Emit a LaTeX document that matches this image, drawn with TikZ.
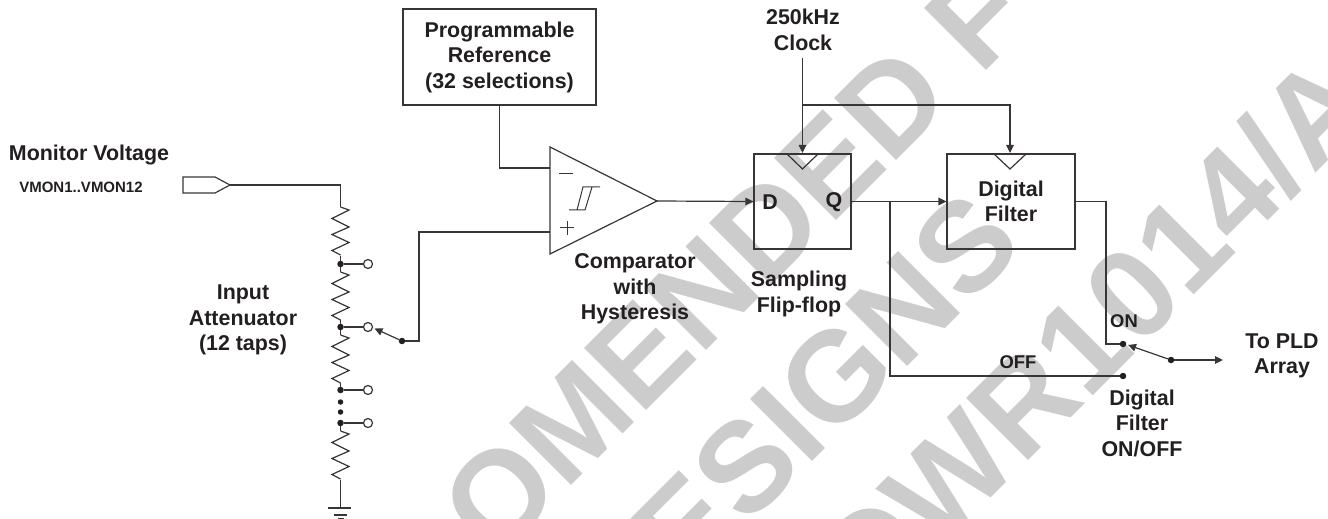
\documentclass[tikz,border=0pt]{standalone}
\usepackage{fontspec}
\setmainfont{Liberation Sans}
\usetikzlibrary{arrows.meta}
\definecolor{ink}{HTML}{231F20}
\definecolor{wm}{HTML}{CCCCCC}
\tikzset{
  x=1bp,y=-1bp,
  wire/.style={draw=ink!90,line width=1.2bp,line join=miter},
  arr/.style={wire,-{Triangle[length=8bp,width=7.5bp]}},
  lab/.style={font=\fontsize{21.4bp}{25.5bp}\selectfont\bfseries,text=ink,align=center,inner sep=0pt},
  smalllab/.style={font=\fontsize{18.4bp}{22bp}\selectfont\bfseries,text=ink,inner sep=0pt},
  tinylab/.style={font=\fontsize{15bp}{18bp}\selectfont\bfseries,text=ink,inner sep=0pt},
  jdot/.style={circle,fill=ink,draw=none,inner sep=0pt,minimum size=6.5bp},
  opin/.style={circle,draw=ink!90,line width=1.2bp,fill=white,inner sep=0pt,minimum size=9bp},
  wmark/.style={font=\fontsize{127.5bp}{127.5bp}\selectfont\bfseries,text=wm,rotate=45,inner sep=0pt,anchor=base west},
}
\newcommand{\zigzag}[1]{\draw[wire] (340.5,#1)--++(8.5,3)--++(-17,8.5)--++(17,8.5)--++(-17,7.5)--++(17,8)--++(-17,8)--++(8.5,4.5);}
\begin{document}
\begin{tikzpicture}
\useasboundingbox (0,0) rectangle (1328,519);
\clip (0,0) rectangle (1328,519);
% watermark
\node[wmark] (w1) at (495,562) {OMENDED F};
\node[wmark] (w2) at (686,588) {ESIGNS};
\node[wmark] (w3) at (867.5,621.5) {OWR1014/A};
% input pin
\coordinate (pin) at (230,185);
\draw[wire] (183,177)--(215,177)--(pin)--(215,193)--(183,193)--cycle;
\node[lab] (mv) at (89,155) {Monitor Voltage};
\node[tinylab] (vm) at (81,187) {VMON1..VMON12};
% attenuator
\coordinate (r1t) at (340.5,207);
\coordinate (r4b) at (340.5,480);
\coordinate (g) at (340.5,508);
\draw[wire] (pin)-|(r1t);
\zigzag{207}\zigzag{272}\zigzag{335}\zigzag{431}
\node[jdot] (d1) at (340.5,264) {};
\node[jdot] (d2) at (340.5,327) {};
\node[jdot] (d3) at (340.5,390) {};
\node[jdot] (d4) at (340.5,423) {};
\node[jdot,minimum size=5.5bp] (e1) at (340.5,402) {};
\node[jdot,minimum size=5.5bp] (e2) at (340.5,412) {};
\node[opin] (o1) at (368,264) {};
\node[opin] (o2) at (368,327) {};
\node[opin] (o3) at (368,390) {};
\node[opin] (o4) at (368,423) {};
\draw[wire] (d1)--(o1); \draw[wire] (d2)--(o2); \draw[wire] (d3)--(o3); \draw[wire] (d4)--(o4);
\draw[wire] (340.5,256)--(d1)--(340.5,272);
\draw[wire] (340.5,320)--(d2)--(340.5,335);
\draw[wire] (340.5,383)--(d3);
\draw[wire] (d4)--(340.5,431);
\draw[wire] (r4b)--(g);
\draw[wire] (328,508)--(351,508);
\draw[wire] (334,515)--(347,515);
\draw[wire] (338,518.5)--(344,518.5);
\node[lab] (att) at (243,320) {Input\\Attenuator\\(12 taps)};
% input switch
\node[jdot] (sw1) at (402,341) {};
\coordinate (swt) at (374.5,328.5);
\draw[arr] (sw1)--(swt);
% comparator
\coordinate (ca) at (550,147);
\coordinate (cb) at (550,254);
\coordinate (ct) at (657,201);
\coordinate (cm) at (550,168);
\coordinate (cp) at (550,232);
\draw[wire] (ca)--(ct)--(cb)--cycle;
\draw[wire] (sw1)-|(419,232)--(cp);
\draw[wire,line width=1bp] (559,174)--(573,174);
\draw[wire,line width=1bp] (560,228)--(574,228) (567,221)--(567,235);
\draw[wire,line width=1bp] (569,210)--(585,210)--(592,187) (577,210)--(583,187)--(600,187);
\node[lab] (cmp) at (635,289) {Comparator\\with\\Hysteresis};
% programmable reference
\node[lab,draw=ink!90,line width=1.2bp,minimum width=193bp,minimum height=96bp] (pr) at (499.5,57) {Programmable\\Reference\\(32 selections)};
\draw[wire] (pr.south)|-(cm);
% flip-flop
\node[draw=ink!90,line width=1.2bp,minimum width=97bp,minimum height=95bp,inner sep=0pt] (ff) at (802.5,201.5) {};
\draw[wire] (787,154)--(802.5,169)--(818,154);
\node[lab] (dl) at (770,202) {D};
\node[lab] (ql) at (834,202) {Q};
\node[lab] (sf) at (799,294) {Sampling\\Flip-flop};
% digital filter
\node[lab,draw=ink!90,line width=1.2bp,minimum width=128bp,minimum height=95bp] (df) at (1011,201.5) {Digital\\Filter};
\draw[wire] (994,154)--(1010,169)--(1026,154);
% clock
\node[lab] (clk) at (803,30) {250kHz\\Clock};
\coordinate (ck) at (802.5,58);
\coordinate (cj) at (802.5,105);
\draw[arr] (ck)--(802.5,153);
\draw[arr] (cj)-|(1010,153);
% signals
\draw[arr] (ct)--(ff.west);
\coordinate (qb) at (890,201);
\draw[arr] (ff.east)--(df.west);
\node[jdot] (off) at (1123,376) {};
\node[jdot] (on) at (1123,344) {};
\draw[wire] (qb)|-(off);
\draw[wire] (df.east)-|(1106,344)--(on);
\node[jdot] (sw2) at (1171,360) {};
\coordinate (swo) at (1128,345);
\coordinate (out) at (1223,360);
\draw[arr] (sw2)--(swo);
\draw[arr] (sw2)--(out);
\node[smalllab] (onl) at (1124,321) {ON};
\node[smalllab] (ofl) at (1018,362) {OFF};
\node[lab] (dfo) at (1142,423) {Digital\\Filter\\ON/OFF};
\node[lab] (pld) at (1282,356) {To PLD\\Array};
\end{tikzpicture}
\end{document}
